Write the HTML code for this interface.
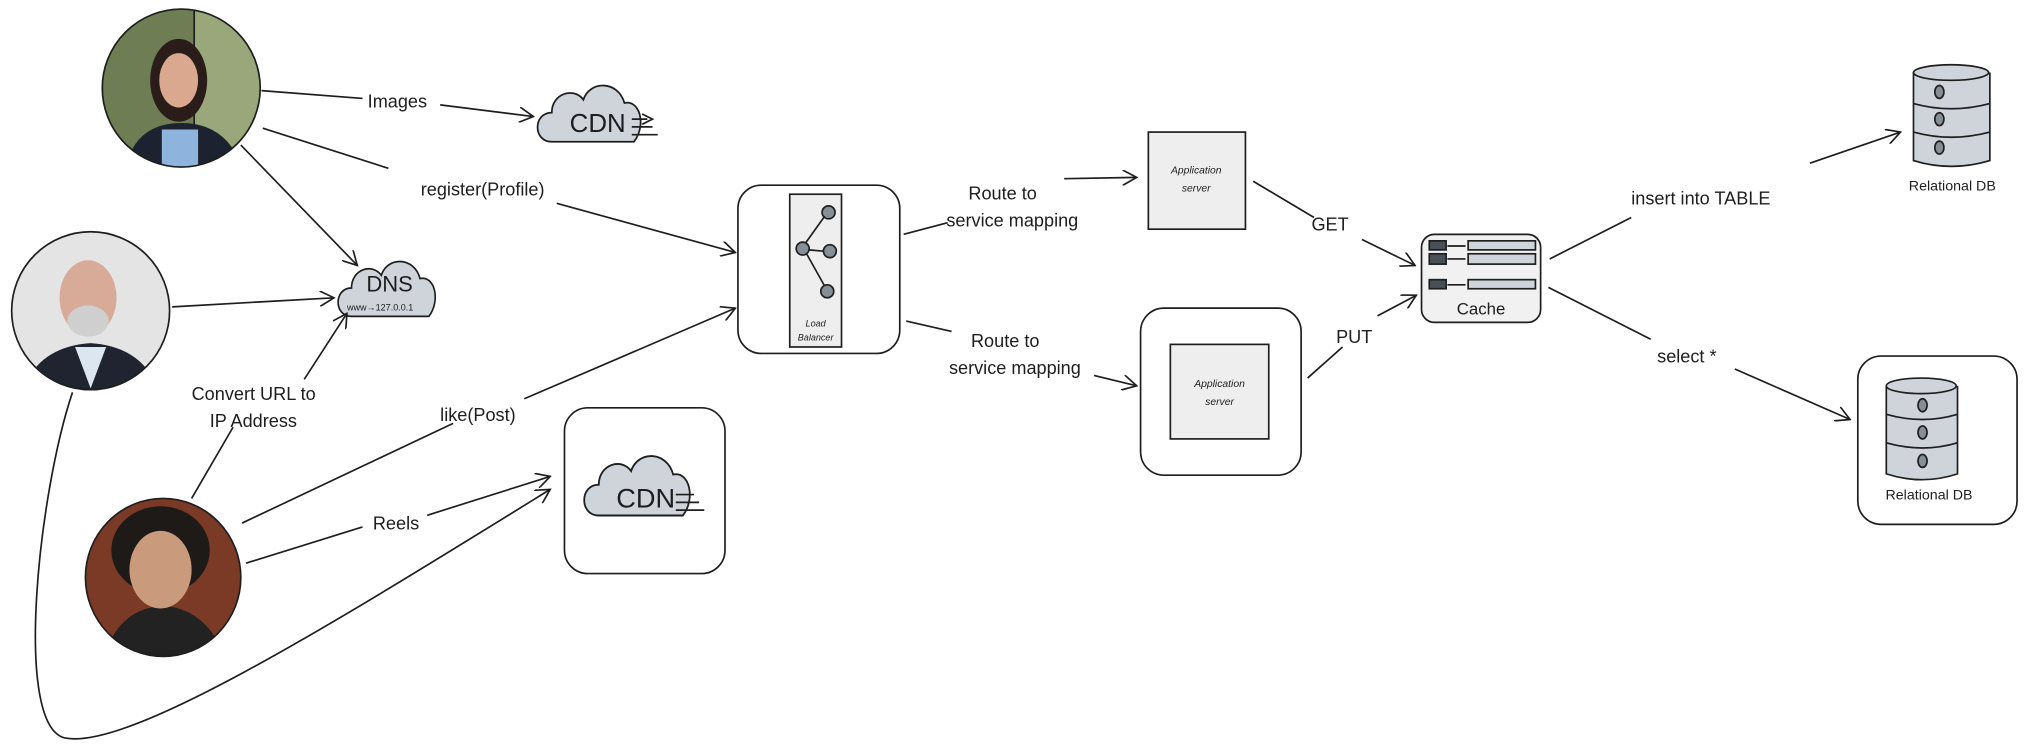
<!DOCTYPE html>
<html><head><meta charset="utf-8"><style>
html,body{margin:0;padding:0;background:#fff;}
svg{display:block;}
text{font-family:"Liberation Sans",sans-serif;fill:#1e1e1e;}
</style></head><body>
<svg width="2030" height="749" viewBox="0 0 1568 578.5" xmlns="http://www.w3.org/2000/svg">
<defs>
<marker id="a" viewBox="0 0 12 12" refX="11" refY="6" markerWidth="12" markerHeight="12" orient="auto" markerUnits="userSpaceOnUse">
<path d="M0,0 L11,6 L0,12" fill="none" stroke="#1e1e1e" stroke-width="1.3"/></marker>
<clipPath id="c1"><circle cx="140" cy="68" r="61"/></clipPath>
<clipPath id="c2"><circle cx="70" cy="240" r="61"/></clipPath>
<clipPath id="c3"><ellipse cx="126" cy="446" rx="60" ry="61"/></clipPath>
<path id="cloud" d="M10,38 C-2,38 -2,20 10,20 C10,8 24,4 30,12 C34,0 52,0 56,14 C66,12 70,28 62,38 Z"/>
</defs>
<g fill="none" stroke="#1e1e1e" stroke-width="1.3">
<!-- photos -->
<g clip-path="url(#c1)"><rect x="70" y="0" width="140" height="140" fill="#6f7d55"/><rect x="150" y="0" width="60" height="140" fill="#9aa77a"/><path d="M95,140 Q100,95 140,95 Q180,95 190,140Z" fill="#1d2230" stroke="none"/><rect x="125" y="100" width="28" height="40" fill="#8eb3dc" stroke="none"/><ellipse cx="138" cy="62" rx="22" ry="32" fill="#2a1c18" stroke="none"/><ellipse cx="138" cy="62" rx="15" ry="21" fill="#d9a88f" stroke="none"/></g>
<circle cx="140" cy="68" r="61"/>
<g clip-path="url(#c2)"><rect x="0" y="170" width="140" height="140" fill="#e4e4e4"/><path d="M15,310 Q25,268 70,265 Q115,268 125,310Z" fill="#1f2430" stroke="none"/><path d="M58,268 L70,300 L82,268Z" fill="#dce6f0" stroke="none"/><ellipse cx="68" cy="230" rx="22" ry="29" fill="#d8ab98" stroke="none"/><ellipse cx="68" cy="248" rx="16" ry="12" fill="#cfcfcf" stroke="none"/></g>
<circle cx="70" cy="240" r="61"/>
<g clip-path="url(#c3)"><rect x="60" y="380" width="140" height="140" fill="#7a3a26"/><path d="M80,510 Q90,470 126,468 Q160,470 175,510Z" fill="#222" stroke="none"/><ellipse cx="124" cy="425" rx="38" ry="34" fill="#1e1a18" stroke="none"/><ellipse cx="124" cy="440" rx="24" ry="30" fill="#c99a7c" stroke="none"/></g>
<ellipse cx="126" cy="446" rx="60" ry="61"/>
<!-- clouds -->
<use href="#cloud" fill="#ced4da" stroke-width="1.1" transform="translate(414,62) scale(1.22,1.25)"/>
<path d="M488,92 h12 M488,98 h16 M488,104 h20 M496,88 l8,4 -8,4"/>
<use href="#cloud" fill="#ced4da" stroke-width="1.1" transform="translate(260,198) scale(1.15,1.22)"/>
<use href="#cloud" fill="#ced4da" stroke-width="1.1" transform="translate(450,348) scale(1.25,1.32)"/>
<path d="M522,382 h14 M522,388 h18 M522,394 h22"/>
<!-- boxes -->
<rect x="570" y="143" width="125" height="130" rx="18"/>
<rect x="610" y="150" width="40" height="118" fill="#eeeeee"/>
<circle cx="640" cy="164" r="5" fill="#868e96"/><circle cx="620" cy="192" r="5" fill="#868e96"/><circle cx="641" cy="194" r="5" fill="#868e96"/><circle cx="639" cy="225" r="5" fill="#868e96"/>
<path d="M622,188 L637,167 M625,193 L636,194 M623,196 L637,221"/>
<rect x="436" y="315" width="124" height="128" rx="18"/>
<rect x="887" y="102" width="75" height="75" fill="#eeeeee"/>
<rect x="881" y="238" width="124" height="129" rx="18"/>
<rect x="904" y="266" width="76" height="73" fill="#eeeeee"/>
<rect x="1098" y="181" width="92" height="68" rx="10" fill="#f1f1f1"/>
<rect x="1104" y="186" width="13" height="7" fill="#495057"/><rect x="1134" y="186" width="52" height="7" fill="#ced4da"/>
<rect x="1104" y="196" width="13" height="8" fill="#495057"/><rect x="1134" y="196" width="52" height="8" fill="#ced4da"/>
<rect x="1104" y="216" width="13" height="7" fill="#495057"/><rect x="1134" y="216" width="52" height="7" fill="#ced4da"/>
<path d="M1118,190 h14 M1118,200 h14 M1118,220 h14"/>
<rect x="1435" y="275" width="123" height="130" rx="18"/>
<!-- DB1 -->
<g fill="#ced4da"><path d="M1478,56 V124 Q1507,133 1537,124 V56"/><ellipse cx="1507" cy="56" rx="29" ry="6"/></g>
<path d="M1478,80 Q1507,88 1537,80 M1478,102 Q1507,110 1537,102"/>
<ellipse cx="1498" cy="71" rx="3.5" ry="5" fill="#868e96"/><ellipse cx="1498" cy="92" rx="3.5" ry="5" fill="#868e96"/><ellipse cx="1498" cy="114" rx="3.5" ry="5" fill="#868e96"/>
<!-- DB2 -->
<g fill="#ced4da"><path d="M1457,298 V366 Q1485,375 1512,366 V298"/><ellipse cx="1484" cy="298" rx="27" ry="6"/></g>
<path d="M1457,320 Q1485,328 1512,320 M1457,342 Q1485,350 1512,342"/>
<ellipse cx="1485" cy="313" rx="3.5" ry="5" fill="#868e96"/><ellipse cx="1485" cy="334" rx="3.5" ry="5" fill="#868e96"/><ellipse cx="1485" cy="356" rx="3.5" ry="5" fill="#868e96"/>
<!-- edges -->
<path d="M202,70 L280,76 M340,81 L412,90" marker-end="url(#a)"/>
<path d="M203,99 L300,130 M430,157 L568,195" marker-end="url(#a)"/>
<path d="M186,112 L276,205" marker-end="url(#a)"/>
<path d="M133,237 L258,230" marker-end="url(#a)"/>
<path d="M148,385 L180,330 M235,293 L268,242" marker-end="url(#a)"/>
<path d="M187,404 L350,327 M405,308 L568,238" marker-end="url(#a)"/>
<path d="M190,435 L280,407 M330,398 L425,368" marker-end="url(#a)"/>
<path d="M56,303 C30,380 10,560 50,570 C100,580 260,480 425,378" marker-end="url(#a)"/>
<path d="M698,181 L732,172 M822,138 L878,137" marker-end="url(#a)"/>
<path d="M700,248 L735,256 M845,290 L878,298" marker-end="url(#a)"/>
<path d="M968,140 L1015,168 M1052,185 L1093,205" marker-end="url(#a)"/>
<path d="M1010,292 L1037,268 M1064,244 L1094,228" marker-end="url(#a)"/>
<path d="M1197,200 L1260,168 M1398,126 L1468,102" marker-end="url(#a)"/>
<path d="M1196,222 L1275,262 M1340,285 L1429,324" marker-end="url(#a)"/>
</g>
<g font-size="14">
<text x="284" y="83">Images</text>
<text x="325" y="151">register(Profile)</text>
<text x="148" y="309">Convert URL to</text>
<text x="162" y="330">IP Address</text>
<text x="340" y="325">like(Post)</text>
<text x="288" y="409">Reels</text>
<text x="748" y="154">Route to</text>
<text x="731" y="175">service mapping</text>
<text x="750" y="268">Route to</text>
<text x="733" y="289">service mapping</text>
<text x="1013" y="178">GET</text>
<text x="1032" y="265">PUT</text>
<text x="1260" y="158">insert into TABLE</text>
<text x="1280" y="280">select *</text>
</g>
<text x="440" y="102" font-size="20">CDN</text>
<text x="283" y="225" font-size="17">DNS</text>
<text x="268" y="240" font-size="7">www→127.0.0.1</text>
<text x="476" y="392" font-size="21">CDN</text>
<text x="630" y="252" font-size="7" text-anchor="middle" font-style="italic">Load</text>
<text x="630" y="263" font-size="7" text-anchor="middle" font-style="italic">Balancer</text>
<text x="924" y="134" font-size="8" text-anchor="middle" font-style="italic">Application</text>
<text x="924" y="148" font-size="8" text-anchor="middle" font-style="italic">server</text>
<text x="942" y="299" font-size="8" text-anchor="middle" font-style="italic">Application</text>
<text x="942" y="313" font-size="8" text-anchor="middle" font-style="italic">server</text>
<text x="1144" y="243" font-size="13" text-anchor="middle">Cache</text>
<text x="1508" y="147" font-size="11" text-anchor="middle">Relational DB</text>
<text x="1490" y="386" font-size="11" text-anchor="middle">Relational DB</text>
</svg>
</body></html>
